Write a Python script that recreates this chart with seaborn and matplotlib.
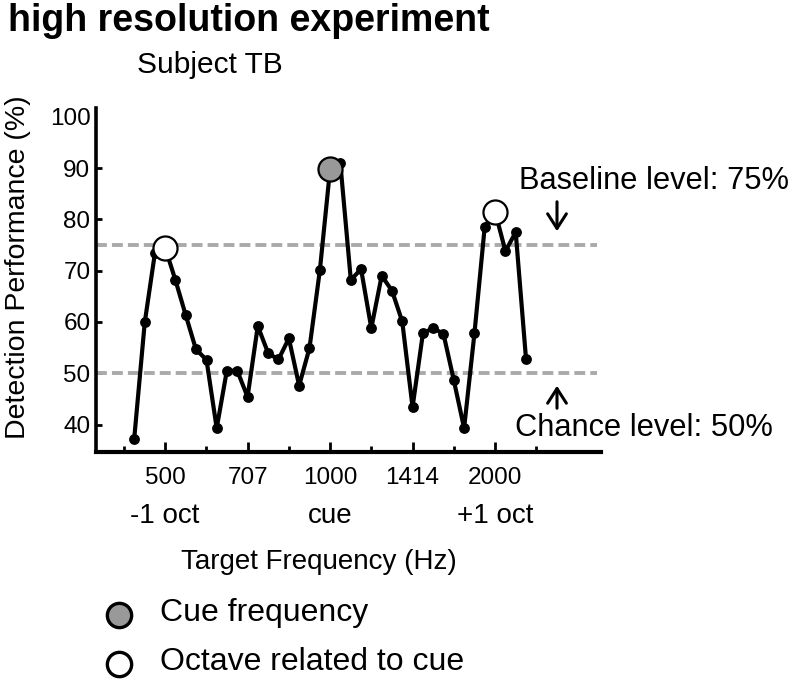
import matplotlib
matplotlib.use("Agg")
import matplotlib.pyplot as plt
import seaborn as sns
import pandas as pd

# ---- data ----
freqs = [439, 459, 479, 500, 522, 545, 569, 595, 621, 648, 677, 707, 738, 771,
         805, 841, 878, 917, 958, 1000, 1044, 1091, 1139, 1189, 1242, 1297,
         1354, 1414, 1477, 1542, 1610, 1682, 1756, 1834, 1915, 2000, 2089,
         2181, 2278]
perf = [37.1, 59.9, 73.4, 74.5, 68.2, 61.4, 54.7, 52.6, 39.3, 50.5, 50.5,
        45.4, 59.2, 53.9, 52.7, 56.8, 47.6, 54.9, 70.1, 89.8, 90.9, 68.2,
        70.3, 58.8, 69.0, 66.1, 60.1, 43.4, 57.8, 58.8, 57.7, 48.6, 39.3,
        57.8, 78.6, 81.5, 73.8, 77.5, 52.7]
cue_freq = [1000]
cue_perf = [89.8]
oct_freqs = [500, 2000]
oct_perf = [74.5, 81.5]
major_ticks = [500, 707.1, 1000, 1414.2, 2000]
major_labels = ["500", "707", "1000", "1414", "2000"]
minor_ticks = [420.4, 594.6, 840.9, 1189.2, 1681.8, 2378.4]
oct_labels = ["-1 oct", "cue", "+1 oct"]
oct_label_pos = [500, 1000, 2000]
yticks = [40, 50, 60, 70, 80, 90, 100]
baseline = 75
chance = 50

sns.set_style("white")
plt.rcParams["font.family"] = ["Liberation Sans", "DejaVu Sans"]
plt.rcParams["text.color"] = "black"
plt.rcParams["axes.labelcolor"] = "black"
plt.rcParams["xtick.color"] = "black"
plt.rcParams["ytick.color"] = "black"

W, H = 795, 683
fig = plt.figure(figsize=(W / 100, H / 100), dpi=100)
ax = fig.add_axes([96 / W, 1 - 452 / H, 505 / W, 344 / H])


def fx(px):
    return px / W


def fy(py):
    return 1 - py / H


ax.set_xscale("log", base=2)

df = pd.DataFrame({"freq": freqs, "perf": perf})
sns.lineplot(data=df, x="freq", y="perf", ax=ax, color="black", linewidth=3.0,
             marker="o", markersize=7.8, markeredgewidth=0, sort=False,
             estimator=None, zorder=3)

ax.axhline(baseline, xmin=0, xmax=0.992, color="#aaaaaa", lw=2.8,
           dashes=(2.8, 1.3), zorder=1)
ax.axhline(chance, xmin=0, xmax=0.992, color="#aaaaaa", lw=2.8,
           dashes=(2.8, 1.3), zorder=1)

sns.scatterplot(x=cue_freq, y=cue_perf, ax=ax, s=300, color="#999999",
                edgecolor="black", linewidth=1.6, zorder=5)
sns.scatterplot(x=oct_freqs, y=oct_perf, ax=ax, s=300, color="white",
                edgecolor="black", linewidth=1.6, zorder=5)

ax.set_xlim(374, 3121)
ax.set_ylim(34.66, 101.7)

ax.set_xticks(major_ticks)
ax.set_xticklabels(major_labels)
ax.set_xticks(minor_ticks, minor=True)
ax.xaxis.set_minor_formatter(plt.NullFormatter())
ax.set_yticks(yticks)
ax.set_yticklabels([str(v) for v in yticks])

for s in ["top", "right"]:
    ax.spines[s].set_visible(False)
ax.spines["left"].set_linewidth(2.6)
ax.spines["bottom"].set_linewidth(3.0)
ax.spines["left"].set_color("black")
ax.spines["bottom"].set_color("black")

ax.tick_params(axis="x", which="major", direction="in", length=7, width=2,
               labelsize=17.5, pad=11, colors="black", bottom=True)
ax.tick_params(axis="x", which="minor", direction="in", length=4, width=2,
               bottom=True)
ax.tick_params(axis="y", direction="in", length=4, width=2, labelsize=17.5,
               pad=4, colors="black", left=True)
ax.yaxis.get_major_ticks()[-1].tick1line.set_visible(False)

trans = ax.get_xaxis_transform()
for pos, lab in zip(oct_label_pos, oct_labels):
    ax.text(pos, (452 - 516) / 344, lab, transform=trans, ha="center",
            va="center", fontsize=20)

ax.set_xlabel("")
ax.set_ylabel("")
fig.text(fx(319), fy(562), "Target Frequency (Hz)", ha="center",
         va="center", fontsize=20)
fig.text(fx(18), fy(267), "Detection Performance (%)", rotation=90,
         ha="center", va="center", fontsize=20.5)

fig.text(fx(8), fy(21), "high resolution experiment", ha="left",
         va="center", fontsize=27, fontweight="bold")
fig.text(fx(137), fy(65), "Subject TB", ha="left", va="center",
         fontsize=21.5)

fig.text(fx(519), fy(181), "Baseline level: 75%", ha="left", va="center",
         fontsize=22.2)
fig.text(fx(515), fy(428), "Chance level: 50%", ha="left", va="center",
         fontsize=22.2)
fig.add_artist(matplotlib.patches.FancyArrowPatch(
    (fx(557), fy(199)), (fx(557), fy(234)), transform=fig.transFigure,
    arrowstyle="->,head_length=7,head_width=4.5", lw=2.2, color="black",
    mutation_scale=1.5))
fig.add_artist(matplotlib.patches.FancyArrowPatch(
    (fx(557), fy(411)), (fx(557), fy(383)), transform=fig.transFigure,
    arrowstyle="->,head_length=7,head_width=4.5", lw=2.2, color="black",
    mutation_scale=1.5))

# legend
fig.add_artist(plt.Line2D([fx(119)], [fy(615)], marker="o", markersize=17.5,
                          markerfacecolor="#999999", markeredgecolor="black",
                          markeredgewidth=2.4, linestyle="none",
                          transform=fig.transFigure))
fig.add_artist(plt.Line2D([fx(119)], [fy(664)], marker="o", markersize=17.5,
                          markerfacecolor="white", markeredgecolor="black",
                          markeredgewidth=2.4, linestyle="none",
                          transform=fig.transFigure))
fig.text(fx(160), fy(613), "Cue frequency", ha="left", va="center",
         fontsize=23)
fig.text(fx(160), fy(662), "Octave related to cue", ha="left", va="center",
         fontsize=23)

fig.savefig("out.png", dpi=100)
